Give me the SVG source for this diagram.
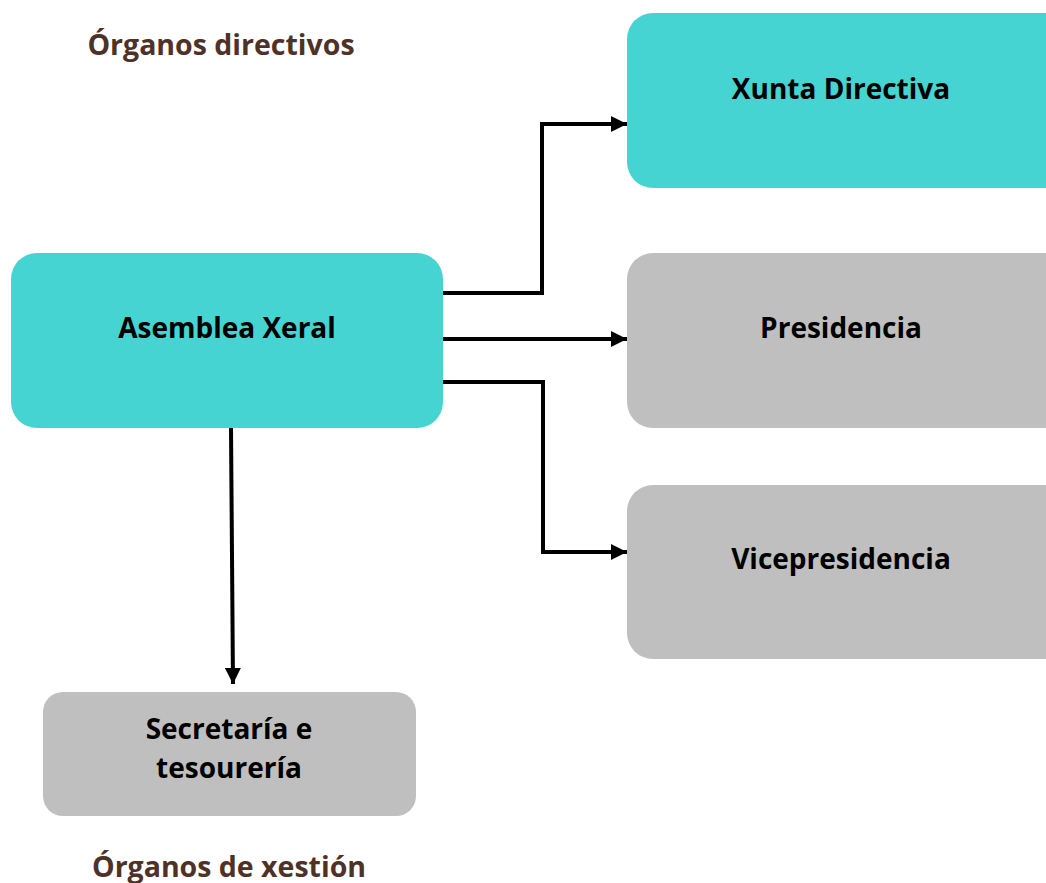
<svg xmlns="http://www.w3.org/2000/svg" width="1046" height="883" viewBox="0 0 1046 883">
<defs>
<style>
.teal{fill:#45D4D1}
.gray{fill:#BFBFBF}
.lbl{font-family:"Open Sans","Liberation Sans",sans-serif;font-weight:bold;font-size:28px;fill:#000;text-anchor:middle}
.head{font-family:"Open Sans","Liberation Sans",sans-serif;font-weight:bold;font-size:28.5px;fill:#4F3227;text-anchor:middle}
.conn{fill:none;stroke:#000;stroke-width:4;stroke-linejoin:miter}
</style>
<marker id="arr" markerWidth="16" markerHeight="16" refX="16" refY="8" orient="auto" markerUnits="userSpaceOnUse">
<path d="M0,0 L16,8 L0,16 Z" fill="#000"/>
</marker>
</defs>
<rect width="1046" height="883" fill="#fff"/>
<g id="heading-directivos"><text class="head" x="221" y="55">Órganos directivos</text></g>
<g id="heading-xestion"><text class="head" x="229" y="877">Órganos de xestión</text></g>
<g id="connectors">
<path class="conn" d="M443,293 H542 V124 H627" marker-end="url(#arr)"/>
<path class="conn" d="M443,339 H627" marker-end="url(#arr)"/>
<path class="conn" d="M443,382 H543 V552 H627" marker-end="url(#arr)"/>
<path class="conn" d="M231,428 L233,684" marker-end="url(#arr)"/>
</g>
<g id="xunta"><rect class="teal" x="627" y="13" width="446" height="175" rx="26"/><text class="lbl" x="841" y="99">Xunta Directiva</text></g>
<g id="presidencia"><rect class="gray" x="627" y="253" width="446" height="175" rx="26"/><text class="lbl" x="841" y="338">Presidencia</text></g>
<g id="vicepresidencia"><rect class="gray" x="627" y="485" width="446" height="174" rx="26"/><text class="lbl" x="841" y="569">Vicepresidencia</text></g>
<g id="asemblea"><rect class="teal" x="11" y="253" width="432" height="175" rx="26"/><text class="lbl" x="227" y="338">Asemblea Xeral</text></g>
<g id="secretaria"><rect class="gray" x="43" y="692" width="373" height="124" rx="20"/><text class="lbl" x="229" y="739">Secretaría e</text><text class="lbl" x="229" y="778">tesourería</text></g>
</svg>
